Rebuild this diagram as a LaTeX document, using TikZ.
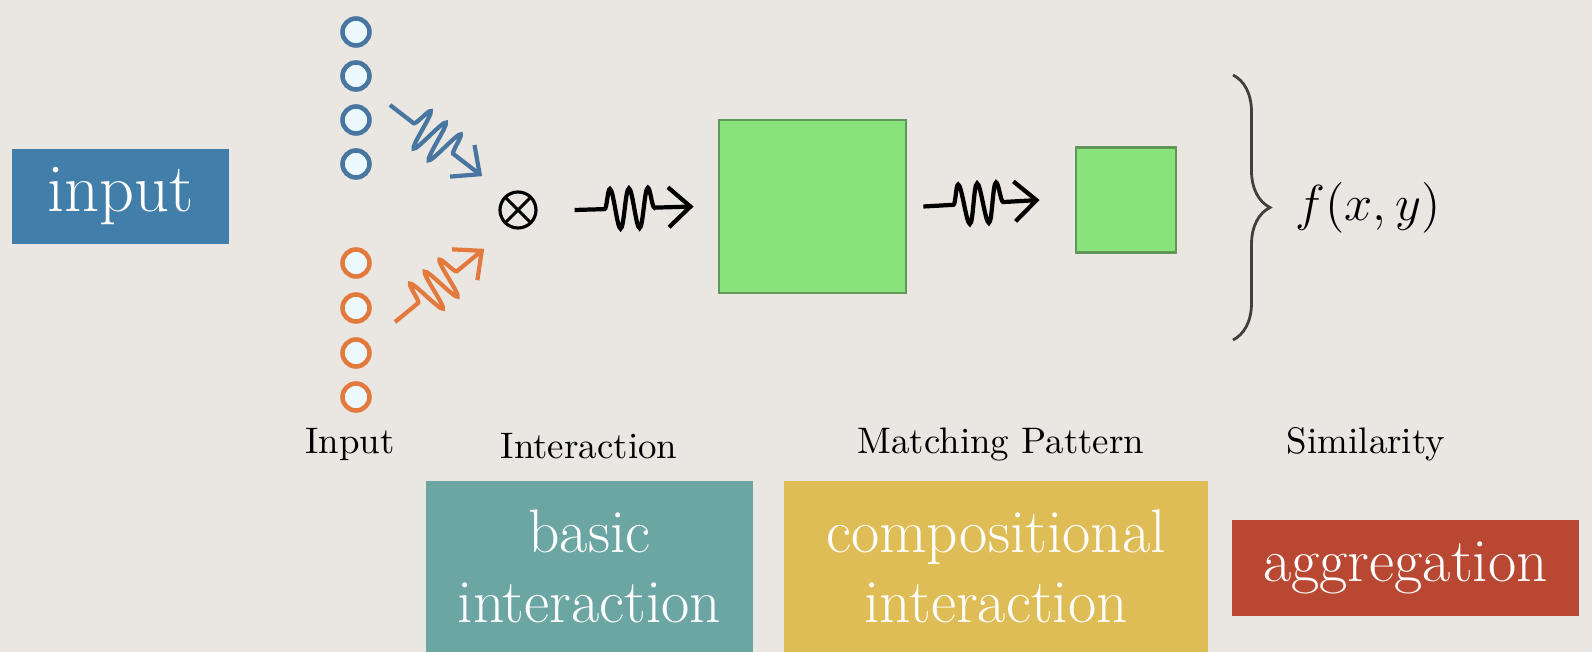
\documentclass[tikz,border=0pt]{standalone}
\usetikzlibrary{arrows.meta,decorations.pathmorphing,decorations.pathreplacing,positioning}
\definecolor{paper}{RGB}{234,231,226}
\definecolor{inblue}{RGB}{66,126,170}
\definecolor{dotblue}{RGB}{72,118,160}
\definecolor{dotorange}{RGB}{226,122,62}
\definecolor{tealbox}{RGB}{108,166,163}
\definecolor{sandbox}{RGB}{222,188,86}
\definecolor{rustbox}{RGB}{184,72,50}
\definecolor{mgreen}{RGB}{136,228,122}
\definecolor{mgreenline}{RGB}{96,150,88}

\begin{document}
\begin{tikzpicture}[>=latex,
  unitdot/.style={circle, line width=1.3pt, fill=white!92!cyan, minimum size=0.27cm, inner sep=0pt},
  wavy/.style={decorate, decoration={snake, amplitude=2mm, segment length=1.9mm, pre length=3mm, post length=3.5mm},
    line width=1.2pt, -{Straight Barb[length=2.2mm,width=4mm]}},
  patbox/.style={rectangle, draw=mgreenline, fill=mgreen, line width=0.8pt, inner sep=0pt},
  tagbox/.style={rectangle, inner sep=0pt, text=white, align=center},
  caption/.style={font=\fontsize{10.5}{12}\selectfont}]
\useasboundingbox (0,0) rectangle (15.92,6.52);
\fill[paper] (0,0) rectangle (15.92,6.52);

% the two input sequences
\foreach \i/\y in {1/6.20,2/5.76,3/5.32,4/4.88}
{
    \node[unitdot, draw=dotblue] (x\i) at (3.56,\y) {};
}
\foreach \i/\y in {1/3.89,2/3.44,3/2.99,4/2.55}
{
    \node[unitdot, draw=dotorange] (y\i) at (3.56,\y) {};
}

\node[circle, draw, line width=0.9pt, minimum size=0.36cm, inner sep=0pt,
  path picture={\draw[line width=0.9pt] (path picture bounding box.north west) -- (path picture bounding box.south east)
    (path picture bounding box.south west) -- (path picture bounding box.north east);}] (mult) at (5.18,4.42) {};

\node[patbox, minimum width=1.87cm, minimum height=1.73cm] (bigpat) at (8.125,4.455) {};
\node[patbox, minimum width=1.0cm, minimum height=1.05cm] (smallpat) at (11.26,4.52) {};

\coordinate (xs) at (3.90,5.47);
\coordinate (ys) at (3.95,3.30);
\draw[wavy, dotblue] (xs) -- ([shift={(-0.22,0.2)}]mult.135);
\draw[wavy, dotorange] (ys) -- ([shift={(-0.2,-0.25)}]mult.225);
\draw[wavy] ([xshift=3.7mm]mult.east) -- ([xshift=-2.4mm]bigpat.west);
\draw[wavy] ([xshift=1.6mm]bigpat.east) -- ([xshift=-3.5mm]smallpat.west);

% similarity
\coordinate (bt) at (12.33,5.77);
\coordinate (bb) at (12.33,3.12);
\draw[decorate, decoration={brace, amplitude=3.7mm}, line width=0.8pt, black!75] (bt) -- (bb);
\node[anchor=west, inner sep=0pt, font=\fontsize{15}{18}\selectfont] (fxy) at (12.95,4.44) {$f(x,y)$};

\node[caption] (lin) at (3.50,2.08) {Input};
\node[caption] (lint) at (5.89,2.06) {Interaction};
\node[caption] (lmat) at (10.01,2.08) {Matching Pattern};
\node[caption] (lsim) at (13.66,2.08) {Similarity};

\node[tagbox, fill=inblue, minimum width=2.17cm, minimum height=0.95cm, font=\fontsize{19.5}{22}\selectfont] (tinput) at (1.205,4.555) {input};
\node[tagbox, fill=tealbox, minimum width=3.27cm, minimum height=1.71cm, font=\fontsize{17.5}{20}\selectfont] (tbasic) at (5.895,0.855) {basic\\interaction};
\node[tagbox, fill=sandbox, minimum width=4.24cm, minimum height=1.71cm, font=\fontsize{17.5}{20}\selectfont] (tcomp) at (9.96,0.855) {compositional\\interaction};
\node[tagbox, fill=rustbox, minimum width=3.47cm, minimum height=0.96cm, font=\fontsize{17.5}{20}\selectfont] (taggr) at (14.055,0.84) {aggregation};

\end{tikzpicture}
\end{document}
